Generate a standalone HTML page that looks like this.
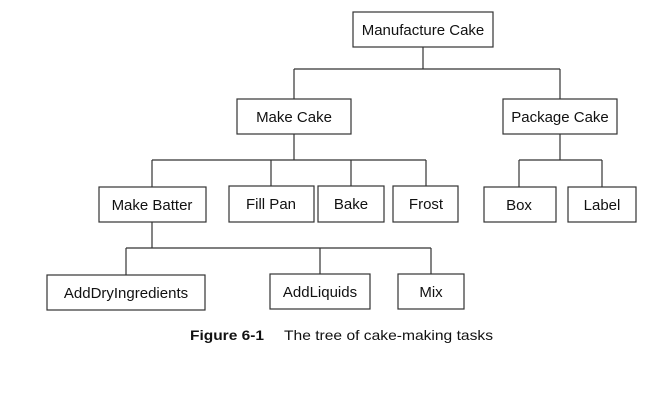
<!DOCTYPE html>
<html><head><meta charset="utf-8"><style>
html,body{margin:0;padding:0;background:#fff;}
svg{display:block;}
text{font-family:"Liberation Sans",sans-serif;font-size:15px;fill:#111;}
</style></head><body>
<svg width="669" height="412" viewBox="0 0 669 412" xmlns="http://www.w3.org/2000/svg">
<g stroke="#333" stroke-width="1.2" fill="#fff">
<!-- connectors -->
<line x1="423" y1="47" x2="423" y2="69"/>
<line x1="294" y1="69" x2="560" y2="69"/>
<line x1="294" y1="69" x2="294" y2="99"/>
<line x1="560" y1="69" x2="560" y2="99"/>
<line x1="294" y1="134" x2="294" y2="160"/>
<line x1="152" y1="160" x2="426" y2="160"/>
<line x1="152" y1="160" x2="152" y2="187"/>
<line x1="271" y1="160" x2="271" y2="186"/>
<line x1="351" y1="160" x2="351" y2="186"/>
<line x1="426" y1="160" x2="426" y2="186"/>
<line x1="560" y1="134" x2="560" y2="160"/>
<line x1="519" y1="160" x2="602" y2="160"/>
<line x1="519" y1="160" x2="519" y2="187"/>
<line x1="602" y1="160" x2="602" y2="187"/>
<line x1="152" y1="222" x2="152" y2="248"/>
<line x1="126" y1="248" x2="431" y2="248"/>
<line x1="126" y1="248" x2="126" y2="275"/>
<line x1="320" y1="248" x2="320" y2="274"/>
<line x1="431" y1="248" x2="431" y2="274"/>
<!-- boxes -->
<rect x="353" y="12" width="140" height="35"/>
<rect x="237" y="99" width="114" height="35"/>
<rect x="503" y="99" width="114" height="35"/>
<rect x="99" y="187" width="107" height="35"/>
<rect x="229" y="186" width="85" height="36"/>
<rect x="318" y="186" width="66" height="36"/>
<rect x="393" y="186" width="65" height="36"/>
<rect x="484" y="187" width="72" height="35"/>
<rect x="568" y="187" width="68" height="35"/>
<rect x="47" y="275" width="158" height="35"/>
<rect x="270" y="274" width="100" height="35"/>
<rect x="398" y="274" width="66" height="35"/>
</g>
<g text-anchor="middle">
<text x="423" y="35">Manufacture Cake</text>
<text x="294" y="122">Make Cake</text>
<text x="560" y="122">Package Cake</text>
<text x="152" y="210">Make Batter</text>
<text x="271" y="209">Fill Pan</text>
<text x="351" y="209">Bake</text>
<text x="426" y="209">Frost</text>
<text x="519" y="210">Box</text>
<text x="602" y="210">Label</text>
<text x="126" y="298">AddDryIngredients</text>
<text x="320" y="297">AddLiquids</text>
<text x="431" y="297">Mix</text>
</g>
<text x="190" y="340" font-weight="bold" style="font-size:14px" textLength="74" lengthAdjust="spacingAndGlyphs">Figure 6-1</text>
<text x="284" y="340" style="font-size:14px" textLength="209" lengthAdjust="spacingAndGlyphs">The tree of cake-making tasks</text>
</svg>
</body></html>
